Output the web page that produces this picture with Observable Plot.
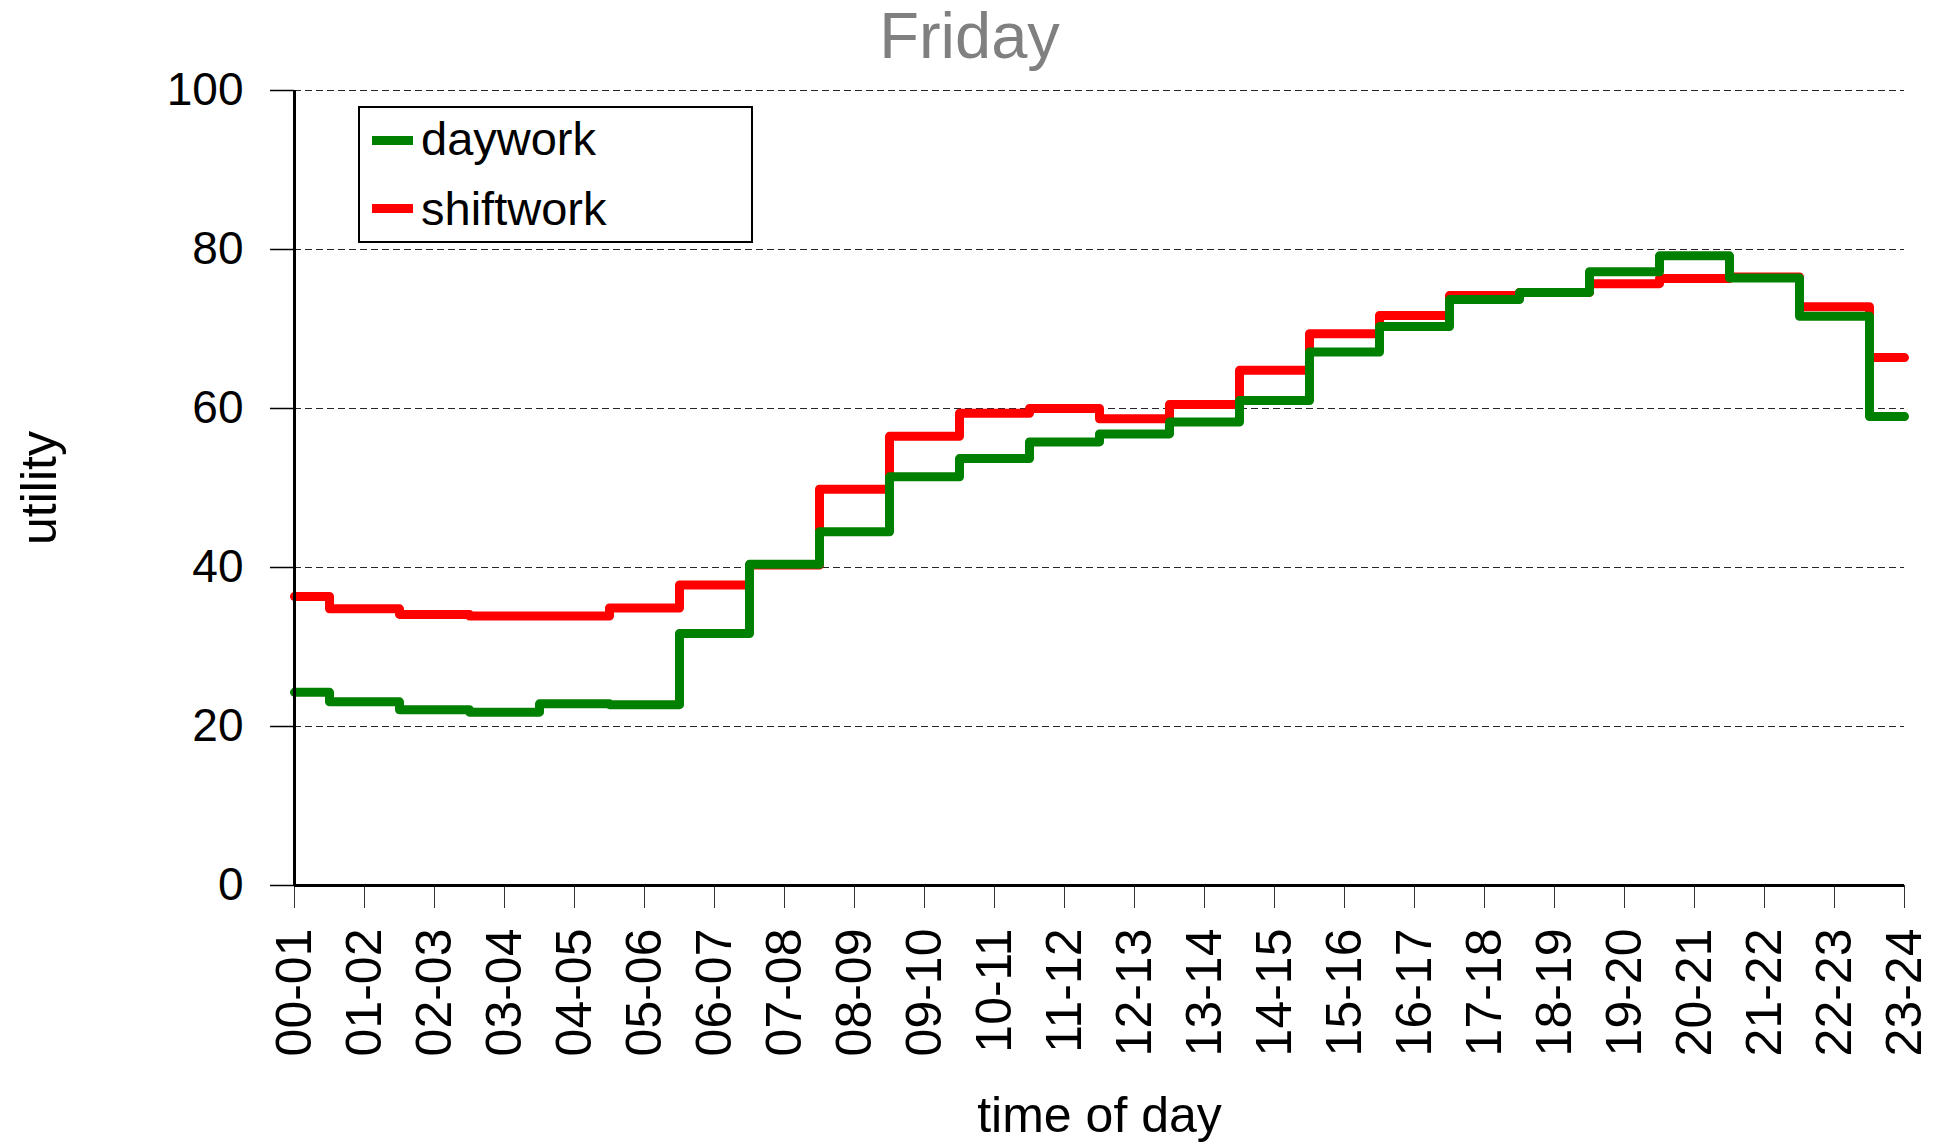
<!DOCTYPE html>
<html><head><meta charset="utf-8">
<script src="https://cdn.jsdelivr.net/npm/d3@7"></script>
<script src="https://cdn.jsdelivr.net/npm/@observablehq/plot@0.6"></script>
<style>
html,body{margin:0;padding:0;background:#fff;}
#wrap{position:relative;width:1944px;height:1144px;font-family:"Liberation Sans",Arial,Helvetica,sans-serif;}
#legend{position:absolute;left:358px;top:106px;width:395px;height:137px;border:2px solid #000;background:#fff;box-sizing:border-box;}
.lg-line{position:absolute;width:41px;height:9px;}
.lg-text{position:absolute;font-size:47px;line-height:47px;color:#000;white-space:nowrap;}
</style></head><body>
<div id="wrap"><div id="chart"></div>
<div id="legend"></div>
<div class="lg-line" id="l0" style="left:372px;top:135.5px;"></div>
<div class="lg-text" id="t0" style="left:421px;top:115px;"></div>
<div class="lg-line" id="l1" style="left:372px;top:203.5px;"></div>
<div class="lg-text" id="t1" style="left:421px;top:185px;"></div>
</div>
<script>
const slots = ["00-01","01-02","02-03","03-04","04-05","05-06","06-07","07-08","08-09","09-10","10-11","11-12",
               "12-13","13-14","14-15","15-16","16-17","17-18","18-19","19-20","20-21","21-22","22-23","23-24"];
const daywork   = [24.3, 23.1, 22.1, 21.8, 22.85, 22.75, 31.7, 40.4, 44.5, 51.4, 53.7, 55.8,
                   56.8, 58.3, 61.0, 67.1, 70.3, 73.7, 74.6, 77.2, 79.2, 76.4, 71.6, 59.0];
const shiftwork = [36.35, 34.8, 34.1, 33.9, 33.9, 34.9, 37.8, 40.3, 49.85, 56.5, 59.4, 60.0,
                   58.7, 60.5, 64.8, 69.4, 71.7, 74.2, 74.6, 75.7, 76.35, 76.55, 72.8, 66.4];
const seriesNames = ["daywork", "shiftwork"];
const seriesColors = ["#008000", "#ff0000"];
const yTicks = [0, 20, 40, 60, 80, 100];
const titleText = "Friday";
const yLabel = "utility";
const xLabel = "time of day";

const toRows = (vals, name) => slots.map((s, i) => ({slot: s, value: vals[i], series: name}));
const dayRows = toRows(daywork, seriesNames[0]);
const shiftRows = toRows(shiftwork, seriesNames[1]);

const chart = Plot.plot({
  width: 1944, height: 1144,
  marginLeft: 294, marginRight: 40, marginTop: 90, marginBottom: 259,
  style: {fontFamily: '"Liberation Sans", Arial, Helvetica, sans-serif', fontSize: "46px", background: "#fff", color: "#000"},
  x: {type: "point", domain: slots, padding: 0},
  y: {domain: [0, 100]},
  marks: [
    Plot.gridY(yTicks.filter(v => v > 0), {stroke: "#000", strokeOpacity: 0.85, strokeWidth: 1.2, strokeDasharray: "7,4"}),
    Plot.line(shiftRows, {x: "slot", y: "value", stroke: seriesColors[1], curve: "step", strokeWidth: 9, strokeLinejoin: "round"}),
    Plot.line(dayRows, {x: "slot", y: "value", stroke: seriesColors[0], curve: "step", strokeWidth: 9, strokeLinejoin: "round"}),
    Plot.axisY(yTicks, {tickSize: 24, tickPadding: 27, label: null, strokeWidth: 1.5}),
    Plot.axisX({tickSize: 23, tickFormat: () => "", label: null, strokeWidth: 1, strokeOpacity: 0.8}),
    Plot.ruleY([0], {strokeWidth: 3}),
    Plot.ruleX([slots[0]], {x: d => d, strokeWidth: 3}),
    Plot.text(slots, {x: d => d, text: d => d, frameAnchor: "bottom", dy: 43, rotate: -90, textAnchor: "end", lineAnchor: "middle", fontSize: 50}),
    Plot.text([titleText], {text: d => d, frameAnchor: "top", dx: -130, dy: -53, lineAnchor: "middle", textAnchor: "middle", fontSize: 65, fill: "#808080"}),
    Plot.text([yLabel], {text: d => d, frameAnchor: "left", dx: -255, rotate: -90, textAnchor: "middle", lineAnchor: "middle", fontSize: 50}),
    Plot.text([xLabel], {text: d => d, frameAnchor: "bottom", dy: 230, textAnchor: "middle", lineAnchor: "middle", fontSize: 50})
  ]
});
document.getElementById("chart").appendChild(chart);
document.getElementById("l0").style.background = seriesColors[0];
document.getElementById("l1").style.background = seriesColors[1];
document.getElementById("t0").textContent = seriesNames[0];
document.getElementById("t1").textContent = seriesNames[1];
</script>
</body></html>
